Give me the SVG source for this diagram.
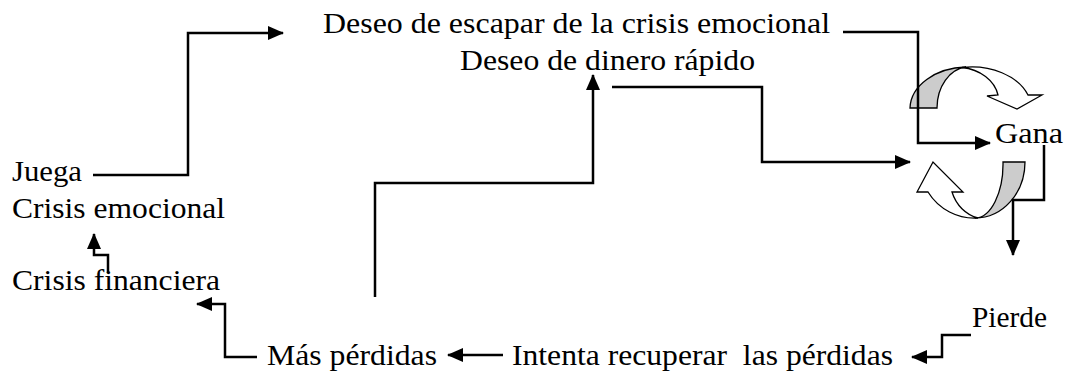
<svg xmlns="http://www.w3.org/2000/svg" width="1067" height="377" viewBox="0 0 1067 377">
<style>
  text { font-family: "Liberation Serif", "Times New Roman", serif; font-size: 29px; fill: #000; }
  .c { fill: none; stroke: #000; stroke-width: 2.5; marker-end: url(#ah); }
  .sh { stroke: #000; stroke-width: 1.3; stroke-linejoin: miter; }
  .g { fill: #cccccc; }
  .w { fill: #ffffff; }
</style>
<defs>
  <marker id="ah" viewBox="0 0 16 14" refX="15" refY="7" markerWidth="16" markerHeight="14" markerUnits="userSpaceOnUse" orient="auto">
    <path d="M0,0 L16,7 L0,14 Z" fill="#000"/>
  </marker>
</defs>
<rect width="1067" height="377" fill="#fff"/>

<g id="cycle-arrows">
  <path class="sh g" d="M910,108 A58,42 0 0 1 966,67 A32,41 0 0 0 937,108 Z"/>
  <path class="sh w" d="M962,67.5 A60,43 0 0 1 1028,95 L1042,95 L1017,109 L987,96 L998,95 A42,34 0 0 0 962,67.5 Z"/>
  <path class="sh g" d="M1025,162 A50,56 0 0 1 975,218 A28,54 0 0 0 1003,162 Z"/>
  <path class="sh w" d="M978,218 A55,56 0 0 1 928,192 L917,192 L933,162 L963,192 L952,192 A36,40 0 0 0 978,218 Z"/>
</g>

<g id="connectors">
  <path class="c" d="M93,175 H188 V33 H283"/>
  <path class="c" d="M843,32 H918 V143 H990"/>
  <path class="c" d="M612,87 H762 V162 H910"/>
  <path class="c" d="M1044,145 V200 H1013 V255"/>
  <path class="c" d="M971,335 H942 V357 H912"/>
  <path class="c" d="M503,355 H448"/>
  <path class="c" d="M257,357 H225 V304 H197"/>
  <path class="c" d="M375,297 V183 H593 V75"/>
  <path class="c" d="M108,273 V255 H94 V234"/>
</g>

<g id="n-escapar"><text x="323" y="33" textLength="507" lengthAdjust="spacingAndGlyphs">Deseo de escapar de la crisis emocional</text></g>
<g id="n-dinero"><text x="460" y="70" textLength="295" lengthAdjust="spacingAndGlyphs">Deseo de dinero rápido</text></g>
<g id="n-gana"><text x="995" y="143" textLength="68" lengthAdjust="spacingAndGlyphs">Gana</text></g>
<g id="n-juega"><text x="12" y="181" textLength="70" lengthAdjust="spacingAndGlyphs">Juega</text></g>
<g id="n-crisis-emocional"><text x="12" y="218" textLength="213" lengthAdjust="spacingAndGlyphs">Crisis emocional</text></g>
<g id="n-crisis-financiera"><text x="12" y="290" textLength="208" lengthAdjust="spacingAndGlyphs">Crisis financiera</text></g>
<g id="n-pierde"><text x="972" y="327" textLength="75" lengthAdjust="spacingAndGlyphs">Pierde</text></g>
<g id="n-mas-perdidas"><text x="267" y="365" textLength="170" lengthAdjust="spacingAndGlyphs">Más pérdidas</text></g>
<g id="n-intenta"><text x="512" y="365" textLength="381" lengthAdjust="spacingAndGlyphs" xml:space="preserve">Intenta recuperar  las pérdidas</text></g>
</svg>
